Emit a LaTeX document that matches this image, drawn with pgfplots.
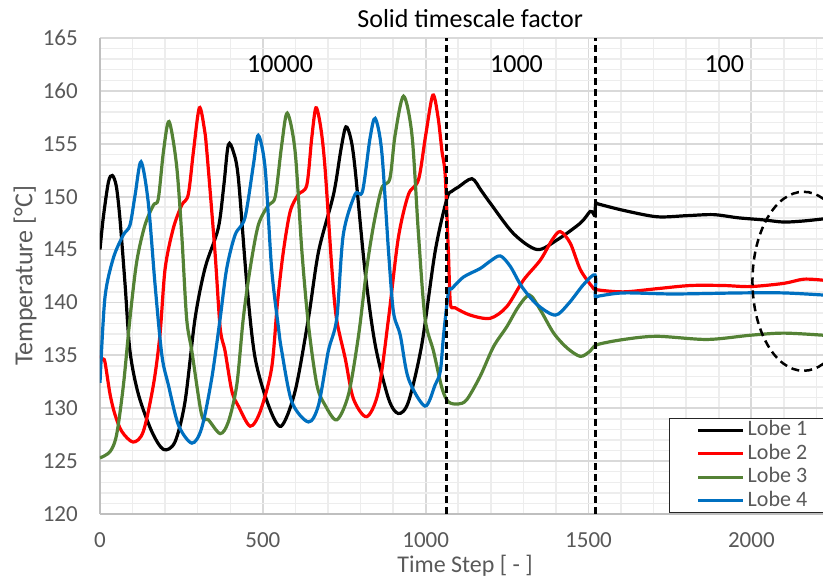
\documentclass[border=0pt]{standalone}
\usepackage{fontspec}
\setmainfont{Carlito}
\usepackage{pgfplots}
\pgfplotsset{compat=1.18}

\definecolor{lobegreen}{RGB}{84,130,53}
\definecolor{lobeblue}{RGB}{0,112,192}
\definecolor{txtgray}{RGB}{89,89,89}
\definecolor{majgrid}{RGB}{217,217,217}
\definecolor{mingrid}{RGB}{237,237,237}

\begin{document}
\begin{tikzpicture}
\useasboundingbox (-100pt,-63pt) rectangle (723pt,514pt);
\begin{axis}[
  at={(0,0)}, anchor=south west,
  width=723pt, height=476pt, scale only axis,
  xmin=0, xmax=2220, ymin=120, ymax=165,
  xtick={0,500,1000,1500,2000}, ytick={120,125,...,165},
  minor xtick={100,200,...,2200}, minor ytick={121,...,164},
  grid=both,
  major grid style={draw=majgrid, line width=1.8pt},
  minor grid style={draw=mingrid, line width=1.5pt},
  axis x line*=bottom, axis y line*=left,
  axis line style={draw=black!25, line width=1.8pt, -},
  major tick length=0pt, minor tick length=0pt,
  /pgf/number format/assume math mode=true,
  /pgf/number format/1000 sep={},
  tick label style={font=\fontsize{23}{23}\selectfont, text=txtgray, inner sep=0pt},
  xticklabel style={anchor=center, yshift=-26.5pt},
  yticklabel style={anchor=east, xshift=-22pt},
  xlabel={Time Step [ - ]},
  ylabel={Temperature [°C]},
  title={Solid timescale factor},
  every axis x label/.style={at={(axis description cs:0.505,-0.108)}, anchor=center, font=\fontsize{24}{24}\selectfont, text=txtgray},
  every axis y label/.style={at={(axis description cs:-0.1037,0.5)}, anchor=center, rotate=90, font=\fontsize{26}{26}\selectfont, text=txtgray},
  every axis title/.style={at={(axis description cs:0.512,1.041)}, anchor=center, font=\fontsize{26}{26}\selectfont},
  legend style={at={(axis description cs:0.787,0.2017)}, anchor=north west,
    draw=black!85, line width=1pt, fill=white,
    font=\fontsize{22}{22}\selectfont, text=txtgray,
    inner xsep=27pt, inner ysep=0pt, row sep=0pt,
    nodes={inner xsep=3pt, inner ysep=2.25pt, text height=15pt, text depth=4pt, text=txtgray}},
  legend cell align=left,
  legend image code/.code={\draw[#1, line width=3.2pt] (0pt,0pt) -- (45pt,0pt);},
  every axis plot/.append style={line width=3.2pt, smooth, tension=0.5},
]

% Lobe 1
\addplot[black] coordinates {
(0,145.0) (10,148.0) (26,151.4) (38,152.0) (50,151.0) (61,148.0) (77,141.7)
(92,135.4) (118,131.3) (159,127.8) (195,126.1) (230,126.8) (261,130.6)
(292,138.5) (323,143.3) (363,147.0) (380,151.0) (394,154.9) (410,154.2)
(425,151.7) (451,141.7) (476,134.8) (517,130.3) (556,128.3) (599,131.6)
(640,138.5) (671,144.8) (717,150.2) (740,154.5) (755,156.6) (770,155.5)
(783,152.7) (814,142.9) (845,136.0) (886,130.9) (916,129.5) (947,130.6)
(988,136.0) (1029,144.8) (1065,149.8) (1080,150.5) (1100,150.9) (1142,151.7)
(1170,150.6) (1198,149.4) (1270,146.5) (1342,145.0) (1403,145.9) (1475,147.5)
(1505,148.6) (1515,148.4) (1520,148.2) (1522,149.4) (1531,149.3) (1608,148.7)
(1710,148.1) (1800,148.2) (1884,148.3) (1960,148.0) (2038,147.8) (2099,147.6)
(2160,147.7) (2221,147.9)
};
\addlegendentry{Lobe 1}

% Lobe 2
\addplot[red] coordinates {
(0,135.0) (8,134.6) (15,134.4) (31,131.3) (46,129.4) (67,127.8) (102,126.8)
(133,127.8) (164,132.2) (184,136.9) (200,143.2) (225,147.0) (251,149.2)
(271,150.2) (287,154.3) (305,158.4) (320,156.5) (328,154.3) (353,144.8)
(369,137.6) (384,135.4) (405,131.6) (425,130.2) (461,128.3) (492,129.7)
(527,133.8) (545,140.0) (563,144.8) (584,148.6) (609,150.2) (635,151.1)
(650,155.5) (663,158.4) (678,156.5) (691,152.7) (712,143.2) (726,138.5)
(753,134.7) (778,130.9) (819,129.2) (855,131.6) (886,138.5) (916,146.1)
(947,150.2) (978,151.6) (1000,155.8) (1022,159.6) (1038,157.5) (1050,154.3)
(1060,152.0) (1070,144.5) (1076,139.9) (1090,139.5) (1137,138.8) (1198,138.5)
(1249,139.6) (1300,142.1) (1352,144.0) (1388,145.9) (1413,146.7) (1444,145.6)
(1475,143.1) (1511,141.5) (1526,141.2) (1608,141.0) (1710,141.3) (1813,141.6)
(1915,141.6) (1997,141.5) (2099,141.8) (2161,142.2) (2221,142.1)
};
\addlegendentry{Lobe 2}

% Lobe 3
\addplot[lobegreen] coordinates {
(0,125.3) (31,125.9) (51,127.5) (72,132.2) (92,138.5) (113,143.9) (138,147.3)
(164,149.2) (179,149.8) (195,154.3) (212,157.1) (235,153.0) (251,146.4)
(266,138.5) (282,135.4) (312,129.4) (333,128.9) (369,127.6) (394,128.7)
(420,132.2) (440,138.5) (461,143.2) (486,147.3) (517,149.2) (538,150.0)
(558,154.9) (575,157.9) (599,154.3) (620,144.8) (640,137.9) (666,132.2)
(691,130.3) (727,128.9) (763,131.3) (794,136.9) (819,143.2) (840,147.3)
(865,150.8) (890,151.7) (906,155.8) (932,159.5) (958,155.8) (978,146.4)
(998,138.5) (1024,135.4) (1050,131.9) (1070,130.6) (1100,130.4) (1126,130.8)
(1167,133.0) (1208,135.8) (1249,137.7) (1285,139.6) (1319,140.7) (1352,139.3)
(1393,137.1) (1434,135.7) (1475,134.9) (1505,135.4) (1526,136.0) (1608,136.5)
(1710,136.8) (1864,136.5) (1997,136.9) (2099,137.1) (2221,136.9)
};
\addlegendentry{Lobe 3}

% Lobe 4
\addplot[lobeblue] coordinates {
(0,132.4) (15,140.4) (41,144.2) (72,146.4) (92,147.3) (108,150.2) (126,153.3)
(148,149.5) (169,141.7) (190,135.0) (210,132.2) (241,128.4) (282,126.7)
(312,128.1) (343,132.8) (369,138.5) (389,143.2) (415,146.4) (445,148.0)
(471,153.0) (486,155.8) (507,152.7) (527,143.2) (548,137.6) (558,135.4)
(589,130.6) (640,128.7) (671,130.3) (701,135.4) (727,138.5) (747,146.4)
(783,150.2) (806,150.5) (829,155.5) (845,157.4) (865,154.3) (886,144.8)
(901,139.1) (922,136.9) (947,132.8) (998,130.2) (1029,132.2) (1045,133.5)
(1055,136.9) (1070,141.0) (1080,141.3) (1116,142.4) (1167,143.2) (1198,143.9)
(1229,144.4) (1260,143.4) (1295,141.5) (1342,139.8) (1398,138.8) (1439,139.9)
(1485,141.7) (1520,142.6) (1521,140.5) (1531,140.6) (1608,140.9) (1761,140.8)
(1966,140.9) (2099,140.9) (2221,140.7)
};
\addlegendentry{Lobe 4}

% timescale factor changes
\addplot[black, line width=3pt, sharp plot, dash pattern=on 7pt off 4pt, forget plot]
  coordinates {(1065,120) (1065,165)};
\addplot[black, line width=3pt, sharp plot, dash pattern=on 7pt off 4pt, forget plot]
  coordinates {(1521,120) (1521,165)};

\node[font=\fontsize{26}{26}\selectfont] at (axis cs:553,162.5) {10000};
\node[font=\fontsize{26}{26}\selectfont] at (axis cs:1279,162.5) {1000};
\node[font=\fontsize{26}{26}\selectfont] at (axis cs:1917,162.5) {100};

\draw[black, line width=2.5pt, dash pattern=on 8pt off 5pt]
  (axis cs:2160,142) ellipse [x radius=51pt, y radius=89.5pt];
\end{axis}
\end{tikzpicture}
\end{document}
